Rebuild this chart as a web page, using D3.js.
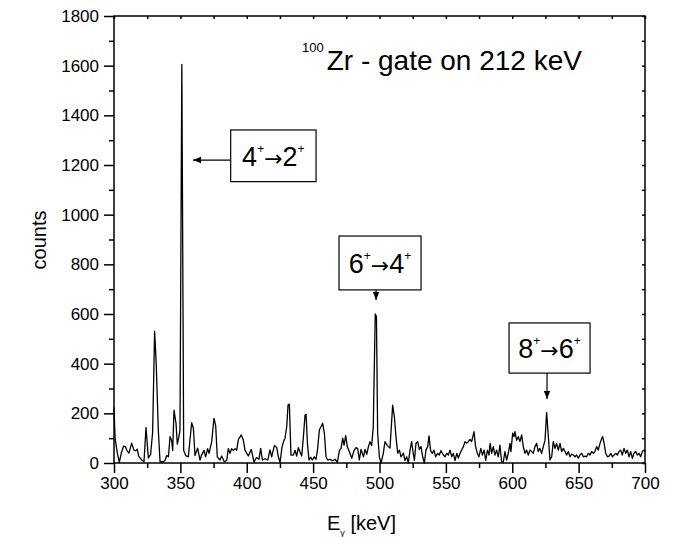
<!DOCTYPE html>
<html><head><meta charset="utf-8">
<script src="https://cdn.jsdelivr.net/npm/d3@7"></script>
<style>
html,body{margin:0;padding:0;background:#fff;}
svg{display:block;font-family:"Liberation Sans",Arial,sans-serif;}
</style></head>
<body>
<svg id="chart" width="676" height="537"></svg>
<script>
const energies = [300,300.8,302.5,304,305.5,307.2,308.5,310,311.3,313.3,315.1,316.5,317.5,318.6,320.9,322.6,324.1,325.9,327.6,329.1,330.6,331.8,333.4,334.7,337.2,338.4,339.7,341,342.2,343.5,344.2,345.2,346.7,347.7,348.7,349.7,351.1,352.5,354,356,358.5,359.8,361,363,364.8,366,367.8,369,370.5,371.6,373.6,375.3,376.6,377.8,379.8,381.1,383.1,384.9,386.1,387.4,388.6,389.9,391.2,392.4,393.7,395.9,397.4,398.7,401.2,403.4,405.5,407.3,409.2,410.5,411.8,413.8,415.8,417.5,418.8,420.8,422.6,423.8,425.1,426.5,427.8,428.8,430.1,431.1,432.1,433.3,435.1,436.4,437.6,438.9,440.1,441.4,442.6,443.9,444.7,445.7,446.9,448.2,449.4,450.9,452.2,453.4,454.7,455.9,457.2,458.5,459.7,461,462.7,464.7,466.5,468.3,469.8,471,472.3,473.3,474.5,475.8,477.3,479.1,480.8,482.3,483.6,484.8,486.1,487.9,489.1,490.4,491.6,492.8,494.1,495.3,496.8,497.7,498.6,499.9,501.1,502.9,504.1,505.9,507.9,509.9,511.2,512.4,513.7,515,516.2,518,519.2,520.5,521.7,523,524.2,525.4,526.3,527.5,528.8,530,531.3,532.5,533.8,535,536.3,537.3,538.5,539.8,541,542.3,543.8,545.1,546.3,548.1,549.4,550.6,551.9,553.1,554.4,555.6,556.9,558.2,559.4,560.7,561.9,563.2,564.4,565.7,566.9,568.2,569.4,571.2,572.4,573.7,574.9,576.3,577.5,578.8,580,581.3,582.5,583.3,584.5,585.7,587,588.2,589.5,590.7,592,593.2,594.5,595.8,597,598.3,599,600.3,601.3,602,603.3,604.6,605.8,607.1,608.3,609.6,610.8,612.1,613.3,614.6,615.8,617.1,618.4,619.6,620.8,622.1,623.4,624.7,625.9,627.2,628.4,629.7,630.9,632.2,633.4,634.7,636,637.2,638.5,639.7,641,642.2,643.5,644.7,646,647.3,648.5,649.8,651,652.3,653.6,654.8,656,657.3,658.6,659.8,661.1,662.3,663.6,664.8,666.1,667.4,668.1,669.2,670.4,671.7,672.9,674.2,675.4,676.7,677.9,679.2,680.4,681.7,682.9,684.2,685.5,686.7,688,689.2,690.5,691.7,693,694.2,695.5,696.7,698,699.3,700];
const counts = [225,100,40,3,40,68,66,48,40,80,51,50,56,28,12,5,143,20,35,125,530,400,130,5,5,10,30,25,106,90,50,213,160,76,100,130,1605,50,30,25,162,140,30,60,12,32,51,25,58,39,86,180,150,25,12,28,5,10,58,39,58,51,58,51,95,113,93,51,28,55,3,22,15,59,12,17,12,53,25,70,62,25,2,62,88,99,146,233,237,32,32,51,28,62,44,28,100,193,196,79,12,23,12,25,15,58,133,146,160,119,25,12,15,9,15,3,51,58,100,72,110,65,45,19,50,62,58,12,55,25,55,35,65,86,70,146,600,590,120,25,0,40,86,70,60,233,186,107,40,52,25,40,10,25,0,52,86,40,10,80,86,55,66,25,0,52,66,109,50,39,52,25,39,32,50,32,25,39,32,52,25,39,10,39,20,39,52,66,86,80,86,95,86,126,66,39,25,59,32,52,10,52,32,79,39,66,32,52,25,72,5,2,46,12,39,79,46,120,106,126,92,106,86,113,66,39,52,32,52,46,39,66,79,46,59,39,66,92,204,106,12,25,86,59,79,52,79,46,59,46,32,46,25,36,32,25,32,19,32,39,25,28,25,39,32,46,39,46,66,52,79,99,106,79,39,25,28,39,25,32,39,32,46,52,32,59,39,52,25,46,19,39,46,32,39,25,46,52,45];

const xMajorTicks = [300,350,400,450,500,550,600,650,700];
const xMinorTicks = [325,375,425,475,525,575,625,675];
const yMajorTicks = [0,200,400,600,800,1000,1200,1400,1600,1800];
const yMinorTicks = [100,300,500,700,900,1100,1300,1500,1700];
const xDomain = [300,700];
const yDomain = [0,1800];

const titleMass = "100";
const titleText = "Zr - gate on 212 keV";
const xLabel = "E";
const xLabelSub = "γ";
const xLabelRest = " [keV]";
const yLabel = "counts";

const transLabels = [["4","2"],["6","4"],["8","6"]];
const boxLeft = [387.9, 469.5, 597.6];
const boxRight = [452.2, 531.3, 658.6];
const boxTop = [1341, 914, 564];
const boxBottom = [1133, 697, 362];
const tipE = [359.5, 497.4, 626.2];
const tipC = [1220, 656, 258];
const arrowDir = ["left","down","down"];

const W = 676, H = 537;
const m = {left:114, top:16, right:31, bottom:74};
const svg = d3.select("#chart");
const x = d3.scaleLinear().domain(xDomain).range([m.left, W - m.right]);
const y = d3.scaleLinear().domain(yDomain).range([H - m.bottom, m.top]);

const font = '"Liberation Sans",Arial,sans-serif';

const line = d3.line().x((d,i)=>x(energies[i])).y(d=>y(d));
svg.append("path").datum(counts)
  .attr("d", line).attr("fill","none").attr("stroke","#000")
  .attr("stroke-width",1.3).attr("stroke-linejoin","round");

function styleAxis(g){
  g.select(".domain").remove();
  g.selectAll("line").attr("stroke","#000").attr("stroke-width",1.5);
  g.selectAll("text").attr("font-family",font).attr("font-size",17).attr("fill","#000");
}
const gx = svg.append("g").attr("transform",`translate(0,${y(0)})`)
  .call(d3.axisBottom(x).tickValues(xMajorTicks).tickSize(10).tickPadding(4).tickFormat(d3.format("d")));
styleAxis(gx);
const gxm = svg.append("g").attr("transform",`translate(0,${y(0)})`)
  .call(d3.axisBottom(x).tickValues(xMinorTicks).tickSize(5).tickFormat(""));
styleAxis(gxm);
const gy = svg.append("g").attr("transform",`translate(${x(300)},0)`)
  .call(d3.axisLeft(y).tickValues(yMajorTicks).tickSize(10).tickPadding(5).tickFormat(d3.format("d")));
styleAxis(gy);
const gym = svg.append("g").attr("transform",`translate(${x(300)},0)`)
  .call(d3.axisLeft(y).tickValues(yMinorTicks).tickSize(5).tickFormat(""));
styleAxis(gym);
const gt = svg.append("g").attr("transform",`translate(0,${y(1800)})`)
  .call(d3.axisBottom(x).tickValues(xMajorTicks.concat(xMinorTicks)).tickSize(3).tickFormat(""));
styleAxis(gt);
const gr = svg.append("g").attr("transform",`translate(${x(700)},0)`)
  .call(d3.axisLeft(y).tickValues(yMajorTicks.concat(yMinorTicks)).tickSize(3).tickFormat(""));
styleAxis(gr);

svg.append("rect").attr("x",x(300)).attr("y",y(1800))
  .attr("width",x(700)-x(300)).attr("height",y(0)-y(1800))
  .attr("fill","none").attr("stroke","#000").attr("stroke-width",1.5);

const xt = svg.append("text").attr("x",327).attr("y",530)
  .attr("font-family",font).attr("font-size",20).attr("fill","#000");
xt.append("tspan").text(xLabel);
xt.append("tspan").attr("font-size",9).attr("dy",6).text(xLabelSub);
xt.append("tspan").attr("dy",-6).text(xLabelRest);

svg.append("text").attr("transform",`translate(46,240) rotate(-90)`)
  .attr("text-anchor","middle").attr("font-family",font).attr("font-size",20)
  .attr("fill","#000").text(yLabel);

const tt = svg.append("text").attr("x",302).attr("y",70)
  .attr("font-family",font).attr("font-size",28).attr("fill","#000");
tt.append("tspan").attr("font-size",13).attr("dy",-18).text(titleMass);
tt.append("tspan").attr("dx",3).attr("dy",18).text(titleText);

const defs = svg.append("defs");
defs.append("marker").attr("id","ah").attr("viewBox","0 0 10 10")
  .attr("refX",10).attr("refY",5).attr("markerWidth",8).attr("markerHeight",8)
  .attr("markerUnits","userSpaceOnUse").attr("orient","auto")
  .append("path").attr("d","M0,1 L10,5 L0,9 Z").attr("fill","#000");

transLabels.forEach((t,i)=>{
  const bx = x(boxLeft[i]), bw = x(boxRight[i]) - x(boxLeft[i]);
  const by = y(boxTop[i]), bh = y(boxBottom[i]) - y(boxTop[i]);
  svg.append("rect").attr("x",bx).attr("y",by).attr("width",bw).attr("height",bh)
    .attr("fill","#fff").attr("stroke","#000").attr("stroke-width",1.2);
  const tx = svg.append("text").attr("x",bx+bw/2).attr("y",by+bh/2+10)
    .attr("text-anchor","middle").attr("font-family",font).attr("font-size",27).attr("fill","#000");
  tx.append("tspan").text(t[0]);
  tx.append("tspan").attr("font-size",12).attr("dy",-13).text("+");
  tx.append("tspan").attr("dy",13).attr("font-size",22).attr("font-family",'"DejaVu Sans",sans-serif').text("→");
  tx.append("tspan").text(t[1]);
  tx.append("tspan").attr("font-size",12).attr("dy",-13).text("+");
  let x1,y1;
  if(arrowDir[i]==="left"){ x1 = bx; y1 = y(tipC[i]); }
  else { x1 = x(tipE[i]); y1 = by + bh; }
  svg.append("line").attr("x1",x1).attr("y1",y1).attr("x2",x(tipE[i])).attr("y2",y(tipC[i]))
    .attr("stroke","#000").attr("stroke-width",1.2).attr("marker-end","url(#ah)");
});
</script>
</body></html>
